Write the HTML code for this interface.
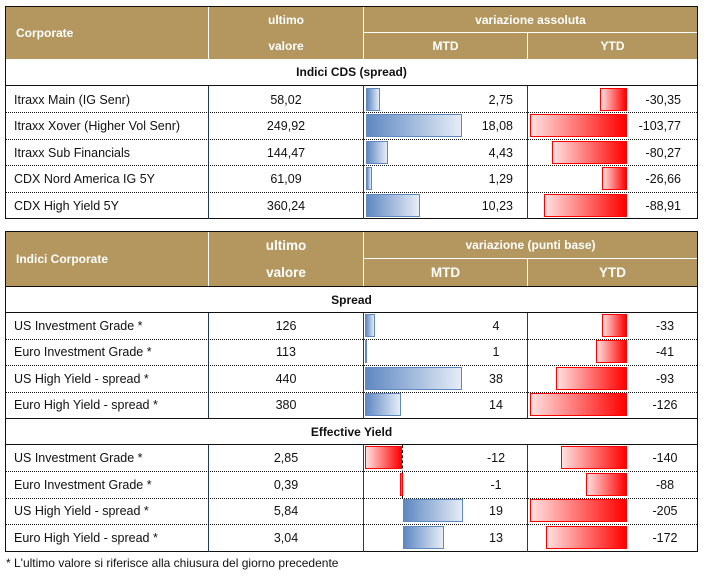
<!DOCTYPE html><html><head><style>
body{margin:0;width:704px;height:574px;background:#fff;font-family:"Liberation Sans",sans-serif;color:#111;position:relative;overflow:hidden}
div{position:absolute;box-sizing:border-box}
.h{background:#b3975e;color:#fff;font-weight:bold;font-size:12px;display:flex;align-items:center;justify-content:center}
.sec{font-weight:bold;font-size:12px;text-align:center;border-left:1px solid #111;border-right:1px solid #111;border-bottom:1px solid #111}
.t{font-size:12.5px;line-height:26px;white-space:nowrap}
.bl{background:linear-gradient(to right,#5f88c2,#e6edf6);border:1px solid #5f88c2}
.rd{background:linear-gradient(to right,#ffe0e0,#ff0000);border:1px solid #f00}
.vl{width:1px;background:#1f3d5a}
.dl{height:0;border-top:1px dotted #111}
</style></head><body>
<!-- TABLE 1 -->
<div style="left:5px;top:6px;width:693px;height:213px;border:1px solid #111"></div>
<div class="h" style="left:6px;top:7px;width:202px;height:52px;justify-content:flex-start;padding-left:10px">Corporate</div>
<div class="h" style="left:209px;top:7px;width:154px;height:26px">ultimo</div>
<div class="h" style="left:209px;top:33px;width:154px;height:26px">valore</div>
<div class="h" style="left:364px;top:7px;width:333px;height:25px">variazione assoluta</div>
<div class="h" style="left:364px;top:33px;width:163px;height:26px">MTD</div>
<div class="h" style="left:528px;top:33px;width:169px;height:26px">YTD</div>
<div style="left:364px;top:32px;width:333px;height:1px;background:#fff"></div>
<div style="left:527px;top:33px;width:1px;height:26px;background:#fff"></div>
<div style="left:208px;top:7px;width:1px;height:52px;background:#fff"></div>
<div style="left:363px;top:7px;width:1px;height:52px;background:#fff"></div>
<div class="sec" style="left:5px;top:59px;width:693px;height:27px;line-height:27px">Indici CDS (spread)</div>
<div class="vl" style="left:208px;top:86px;height:133px"></div>
<div class="vl" style="left:363px;top:86px;height:133px"></div>
<div class="vl" style="left:527px;top:86px;height:133px"></div>
<div class="dl" style="left:6px;top:112px;width:691px"></div>
<div class="dl" style="left:6px;top:139px;width:691px"></div>
<div class="dl" style="left:6px;top:165px;width:691px"></div>
<div class="dl" style="left:6px;top:192px;width:691px"></div>
<!-- rows t1 -->
<div class="t" style="left:14px;top:87px">Itraxx Main (IG Senr)</div>
<div class="t" style="left:14px;top:113px">Itraxx Xover (Higher Vol Senr)</div>
<div class="t" style="left:14px;top:140px">Itraxx Sub Financials</div>
<div class="t" style="left:14px;top:166px">CDX Nord America IG 5Y</div>
<div class="t" style="left:14px;top:193px">CDX High Yield 5Y</div>
<div class="t" style="left:209px;width:154px;text-align:center;top:87px">58,02</div>
<div class="t" style="left:209px;width:154px;text-align:center;top:113px">249,92</div>
<div class="t" style="left:209px;width:154px;text-align:center;top:140px">144,47</div>
<div class="t" style="left:209px;width:154px;text-align:center;top:166px">61,09</div>
<div class="t" style="left:209px;width:154px;text-align:center;top:193px">360,24</div>
<div class="bl" style="left:366px;top:88px;width:14px;height:23px"></div>
<div class="bl" style="left:366px;top:114px;width:96px;height:23px"></div>
<div class="bl" style="left:366px;top:141px;width:22px;height:23px"></div>
<div class="bl" style="left:366px;top:167px;width:6px;height:23px"></div>
<div class="bl" style="left:366px;top:194px;width:54px;height:23px"></div>
<div class="t" style="left:420px;width:93px;text-align:right;top:87px">2,75</div>
<div class="t" style="left:420px;width:93px;text-align:right;top:113px">18,08</div>
<div class="t" style="left:420px;width:93px;text-align:right;top:140px">4,43</div>
<div class="t" style="left:420px;width:93px;text-align:right;top:166px">1,29</div>
<div class="t" style="left:420px;width:93px;text-align:right;top:193px">10,23</div>
<div class="rd" style="left:600px;top:88px;width:27px;height:23px"></div>
<div class="rd" style="left:530px;top:114px;width:97px;height:23px"></div>
<div class="rd" style="left:552px;top:141px;width:75px;height:23px"></div>
<div class="rd" style="left:602px;top:167px;width:25px;height:23px"></div>
<div class="rd" style="left:544px;top:194px;width:83px;height:23px"></div>
<div class="t" style="left:600px;width:81px;text-align:right;top:87px">-30,35</div>
<div class="t" style="left:600px;width:81px;text-align:right;top:113px">-103,77</div>
<div class="t" style="left:600px;width:81px;text-align:right;top:140px">-80,27</div>
<div class="t" style="left:600px;width:81px;text-align:right;top:166px">-26,66</div>
<div class="t" style="left:600px;width:81px;text-align:right;top:193px">-88,91</div>
<!-- TABLE 2 -->
<div style="left:5px;top:231px;width:693px;height:321px;border:1px solid #111"></div>
<div class="h" style="left:6px;top:232px;width:202px;height:54px;justify-content:flex-start;padding-left:10px">Indici Corporate</div>
<div class="h" style="left:209px;top:232px;width:154px;height:27px;font-size:13.5px">ultimo</div>
<div class="h" style="left:209px;top:259px;width:154px;height:27px;font-size:13.5px">valore</div>
<div class="h" style="left:364px;top:232px;width:333px;height:26px">variazione (punti base)</div>
<div class="h" style="left:364px;top:259px;width:163px;height:27px;font-size:13.5px">MTD</div>
<div class="h" style="left:528px;top:259px;width:169px;height:27px;font-size:13.5px">YTD</div>
<div style="left:364px;top:258px;width:333px;height:1px;background:#fff"></div>
<div style="left:527px;top:259px;width:1px;height:27px;background:#fff"></div>
<div style="left:208px;top:232px;width:1px;height:54px;background:#fff"></div>
<div style="left:363px;top:232px;width:1px;height:54px;background:#fff"></div>
<div class="sec" style="left:5px;top:286px;width:693px;height:27px;line-height:27px;border-top:1px solid #111">Spread</div>
<div class="sec" style="left:5px;top:418px;width:693px;height:27px;line-height:27px;border-top:1px solid #111">Effective Yield</div>
<div class="vl" style="left:208px;top:313px;height:105px"></div>
<div class="vl" style="left:363px;top:313px;height:105px"></div>
<div class="vl" style="left:527px;top:313px;height:105px"></div>
<div class="vl" style="left:208px;top:445px;height:107px"></div>
<div class="vl" style="left:363px;top:445px;height:107px"></div>
<div class="vl" style="left:527px;top:445px;height:107px"></div>
<div class="dl" style="left:6px;top:339px;width:691px"></div>
<div class="dl" style="left:6px;top:365px;width:691px"></div>
<div class="dl" style="left:6px;top:392px;width:691px"></div>
<div class="dl" style="left:6px;top:471px;width:691px"></div>
<div class="dl" style="left:6px;top:498px;width:691px"></div>
<div class="dl" style="left:6px;top:524px;width:691px"></div>
<div style="left:402px;top:445px;width:0;height:54px;border-left:1px dashed #111"></div>
<!-- spread rows -->
<div class="t" style="left:14px;top:313px">US Investment Grade *</div>
<div class="t" style="left:14px;top:339px">Euro Investment Grade *</div>
<div class="t" style="left:14px;top:366px">US High Yield - spread *</div>
<div class="t" style="left:14px;top:392px">Euro High Yield - spread *</div>
<div class="t" style="left:209px;width:154px;text-align:center;top:313px">126</div>
<div class="t" style="left:209px;width:154px;text-align:center;top:339px">113</div>
<div class="t" style="left:209px;width:154px;text-align:center;top:366px">440</div>
<div class="t" style="left:209px;width:154px;text-align:center;top:392px">380</div>
<div class="bl" style="left:365px;top:314px;width:10px;height:23px"></div>
<div class="bl" style="left:365px;top:340px;width:2px;height:23px"></div>
<div class="bl" style="left:365px;top:367px;width:97px;height:23px"></div>
<div class="bl" style="left:365px;top:393px;width:36px;height:23px"></div>
<div class="t" style="left:476px;width:40px;text-align:center;top:313px">4</div>
<div class="t" style="left:476px;width:40px;text-align:center;top:339px">1</div>
<div class="t" style="left:476px;width:40px;text-align:center;top:366px">38</div>
<div class="t" style="left:476px;width:40px;text-align:center;top:392px">14</div>
<div class="rd" style="left:602px;top:314px;width:25px;height:23px"></div>
<div class="rd" style="left:596px;top:340px;width:31px;height:23px"></div>
<div class="rd" style="left:556px;top:367px;width:71px;height:23px"></div>
<div class="rd" style="left:530px;top:393px;width:97px;height:23px"></div>
<div class="t" style="left:640px;width:50px;text-align:center;top:313px">-33</div>
<div class="t" style="left:640px;width:50px;text-align:center;top:339px">-41</div>
<div class="t" style="left:640px;width:50px;text-align:center;top:366px">-93</div>
<div class="t" style="left:640px;width:50px;text-align:center;top:392px">-126</div>
<!-- EY rows -->
<div class="t" style="left:14px;top:445px">US Investment Grade *</div>
<div class="t" style="left:14px;top:472px">Euro Investment Grade *</div>
<div class="t" style="left:14px;top:498px">US High Yield - spread *</div>
<div class="t" style="left:14px;top:525px">Euro High Yield - spread *</div>
<div class="t" style="left:209px;width:154px;text-align:center;top:445px">2,85</div>
<div class="t" style="left:209px;width:154px;text-align:center;top:472px">0,39</div>
<div class="t" style="left:209px;width:154px;text-align:center;top:498px">5,84</div>
<div class="t" style="left:209px;width:154px;text-align:center;top:525px">3,04</div>
<div class="rd" style="left:365px;top:446px;width:37px;height:23px"></div>
<div class="rd" style="left:400px;top:473px;width:3px;height:23px"></div>
<div class="bl" style="left:403px;top:499px;width:60px;height:23px"></div>
<div class="bl" style="left:403px;top:526px;width:41px;height:23px"></div>
<div class="t" style="left:476px;width:40px;text-align:center;top:445px">-12</div>
<div class="t" style="left:476px;width:40px;text-align:center;top:472px">-1</div>
<div class="t" style="left:476px;width:40px;text-align:center;top:498px">19</div>
<div class="t" style="left:476px;width:40px;text-align:center;top:525px">13</div>
<div class="rd" style="left:561px;top:446px;width:66px;height:23px"></div>
<div class="rd" style="left:586px;top:473px;width:41px;height:23px"></div>
<div class="rd" style="left:530px;top:499px;width:97px;height:23px"></div>
<div class="rd" style="left:546px;top:526px;width:81px;height:23px"></div>
<div class="t" style="left:640px;width:50px;text-align:center;top:445px">-140</div>
<div class="t" style="left:640px;width:50px;text-align:center;top:472px">-88</div>
<div class="t" style="left:640px;width:50px;text-align:center;top:498px">-205</div>
<div class="t" style="left:640px;width:50px;text-align:center;top:525px">-172</div>
<div class="t" style="left:6px;top:550px;font-size:12px">* L'ultimo valore si riferisce alla chiusura del giorno precedente</div>
</body></html>
